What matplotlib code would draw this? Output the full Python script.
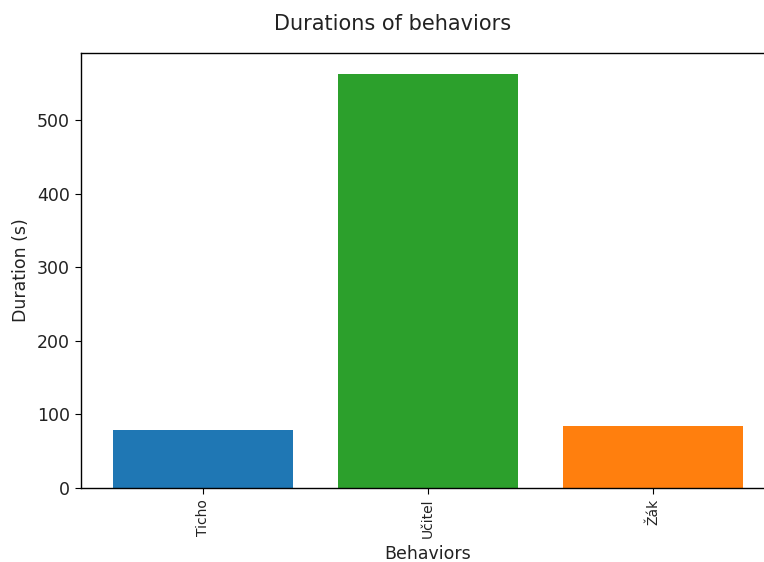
import matplotlib
matplotlib.use("Agg")
import matplotlib.pyplot as plt

behaviors = ["Ticho", "Učitel", "Žák"]
durations = [79, 563, 84]
colors = ["#1f77b4", "#2ca02c", "#ff7f0e"]

fig = plt.figure(figsize=(7.64, 5.62), dpi=100)
# right spine sits just past the figure edge, as in the cropped original
ax = fig.add_axes([0.106, 0.1317, 0.908, 0.774])
ax.bar(behaviors, durations, color=colors, width=0.8)
fig.suptitle("Durations of behaviors", fontsize=15, x=0.514, y=1 - 24 / 562,
             va="center", color="#222222")
ax.set_xlabel("Behaviors", fontsize=12.5, labelpad=5, color="#222222")
ax.set_ylabel("Duration (s)", fontsize=12.5, labelpad=5, color="#222222")
ax.tick_params(axis="x", labelrotation=90, labelsize=10, length=4.4, labelcolor="#222222")
ax.tick_params(axis="y", labelsize=12.5, length=4.4, labelcolor="#222222")
for s in ax.spines.values():
    s.set_linewidth(1.0)
fig.savefig("out.png", dpi=100)
